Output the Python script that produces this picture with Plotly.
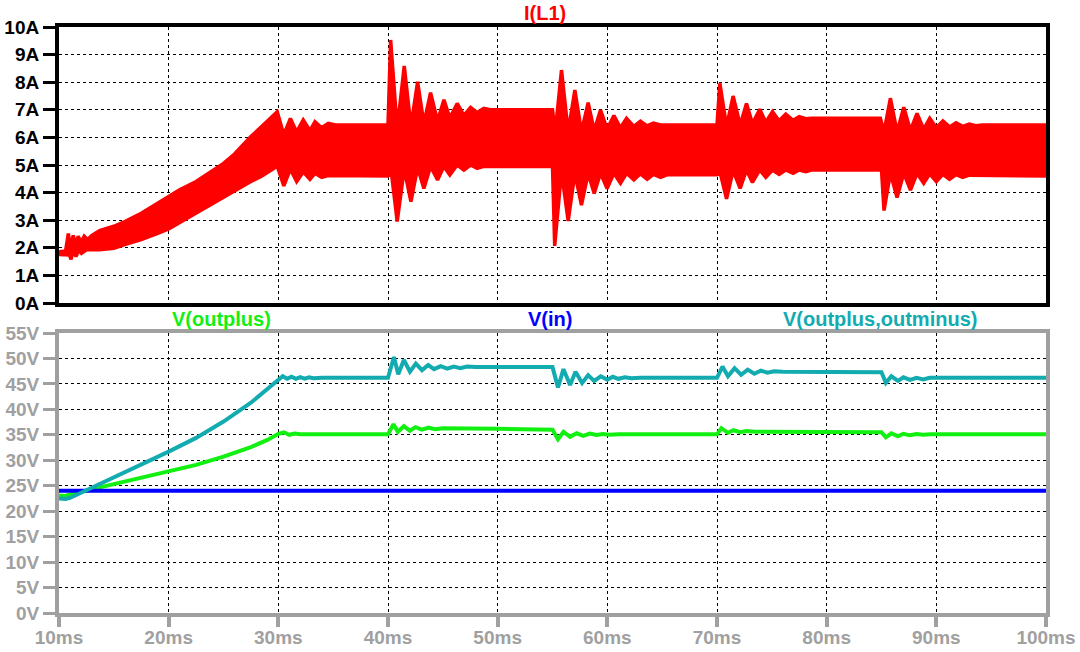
import plotly.graph_objects as go

# ---------------- data ----------------
# Inductor current I(L1): upper and lower edges of the switching-ripple band (ms, A)
i_upper_t = [10.0, 10.6, 10.85, 11.05, 11.3, 11.5, 11.75, 12.0, 12.3, 12.6, 13.0, 13.7, 15.0, 16.0, 17.5, 19.0,
             20.0, 21.0, 22.5, 24.0, 25.0, 26.0, 27.5, 28.5, 29.5, 29.9,
             30.5, 31.1, 31.67, 32.27, 32.88, 33.34, 33.95, 34.55, 35.2, 40.0,
             40.24, 40.84, 41.48, 42.09, 42.70, 43.27, 43.88, 44.52, 45.10, 45.64, 46.31, 46.92,
             47.53, 48.13, 48.74, 49.3, 55.0,
             55.25, 55.82, 56.43, 57.04, 57.64, 58.25, 58.80, 59.38, 59.98, 60.6, 61.2, 61.75,
             62.42, 63.02, 63.63, 64.2, 64.85, 70.0,
             70.26, 70.87, 71.47, 72.11, 72.69, 73.23, 73.9, 74.45, 75.06, 75.66, 76.27, 76.94,
             77.49, 78.1, 78.6, 84.9,
             85.23, 85.81, 86.42, 87.03, 87.64, 88.24, 88.85, 89.4, 90.0, 90.6, 91.2, 91.8,
             92.4, 93.0, 93.6, 94.2, 100.0]
i_upper = [1.86, 1.88, 2.52, 2.0, 2.45, 2.1, 2.42, 2.2, 2.42, 2.3, 2.45, 2.62, 2.78, 2.95, 3.25, 3.6,
           3.85, 4.1, 4.4, 4.8, 5.06, 5.4, 6.03, 6.4, 6.8, 6.93,
           6.1, 6.69, 6.2, 6.63, 6.25, 6.57, 6.35, 6.51, 6.45, 6.45,
           9.53, 6.3, 8.59, 6.4, 8.02, 6.5, 7.62, 6.6, 7.36, 6.7, 7.23, 6.8,
           7.09, 6.9, 7.05, 7.0, 7.0,
           6.2, 8.44, 6.2, 7.72, 6.2, 7.26, 6.25, 6.99, 6.3, 6.79, 6.35, 6.69,
           6.4, 6.59, 6.42, 6.52, 6.45, 6.45,
           7.96, 6.4, 7.5, 6.45, 7.23, 6.5, 7.02, 6.55, 6.93, 6.6, 6.84, 6.62,
           6.75, 6.68, 6.69, 6.69,
           6.2, 7.42, 6.2, 7.09, 6.25, 6.87, 6.3, 6.69, 6.35, 6.6, 6.38, 6.53,
           6.4, 6.48, 6.42, 6.45, 6.45]

i_lower_t = [10.0, 10.95, 11.1, 11.3, 11.55, 11.8, 12.05, 12.5, 13.0, 13.7, 15.0, 16.0, 17.5, 19.0,
             20.0, 21.0, 22.5, 24.0, 25.0, 26.0, 27.5, 28.5, 29.5, 29.9,
             30.5, 31.1, 31.67, 32.27, 32.88, 33.34, 33.95, 34.55, 35.0, 40.0,
             40.3, 40.84, 41.48, 42.09, 42.70, 43.27, 43.88, 44.52, 45.10, 45.64, 46.31, 46.92,
             47.53, 48.13, 48.74, 55.0,
             55.2, 55.82, 56.43, 57.04, 57.64, 58.25, 58.80, 59.38, 59.98, 60.6, 61.2, 61.75,
             62.42, 63.02, 63.63, 64.2, 64.85, 65.5, 70.0,
             70.3, 70.87, 71.47, 72.11, 72.69, 73.23, 73.9, 74.45, 75.06, 75.66, 76.27, 76.94,
             77.49, 78.1, 78.6, 85.0,
             85.23, 85.81, 86.42, 87.03, 87.64, 88.24, 88.85, 89.4, 90.0, 90.6, 91.2, 91.8,
             92.4, 93.0, 93.6, 100.0]
i_lower = [1.76, 1.74, 1.58, 1.9, 1.68, 1.92, 1.8, 1.93, 1.92, 1.93, 1.98, 2.12, 2.3, 2.52,
           2.68, 2.9, 3.25, 3.6, 3.85, 4.05, 4.4, 4.6, 4.85, 4.96,
           4.24, 4.85, 4.4, 4.75, 4.48, 4.7, 4.55, 4.62, 4.6, 4.6,
           4.75, 2.95, 4.85, 3.67, 4.9, 4.15, 4.95, 4.46, 4.95, 4.64, 5.0, 4.82,
           5.0, 4.88, 4.95, 4.95,
           2.07, 4.75, 2.97, 4.7, 3.55, 4.7, 3.97, 4.7, 4.15, 4.7, 4.34, 4.7,
           4.46, 4.68, 4.48, 4.66, 4.55, 4.65, 4.65,
           4.7, 3.77, 4.8, 4.15, 4.82, 4.37, 4.82, 4.55, 4.82, 4.66, 4.82, 4.70,
           4.82, 4.76, 4.82, 4.82,
           3.35, 4.7, 3.82, 4.7, 4.09, 4.7, 4.34, 4.68, 4.4, 4.66, 4.48, 4.65,
           4.55, 4.63, 4.6, 4.6]

# V(outplus) (ms, V)
v_outplus_t = [10.0, 10.6, 11.0, 12.0, 13.0, 14.0, 15.0, 17.5, 20.0, 22.5, 25.0, 27.5, 29.0, 30.0,
               30.5, 31.0, 31.5, 32.0, 40.0,
               40.5, 40.9, 41.45, 42.0, 42.5, 43.1, 43.7, 44.3, 45.0, 50.0, 55.0,
               55.5, 56.0, 56.6, 57.2, 57.8, 58.4, 59.0, 59.6, 60.2, 61.0, 70.0,
               70.4, 71.0, 71.5, 72.1, 72.7, 73.5, 85.0,
               85.4, 85.9, 86.5, 87.0, 87.6, 88.2, 88.8, 89.5, 100.0]
v_outplus = [23.1, 23.0, 23.3, 23.8, 24.3, 24.8, 25.3, 26.5, 27.7, 29.1, 30.7, 32.6, 34.0, 35.2,
             35.5, 35.0, 35.25, 35.1, 35.1,
             37.1, 35.6, 36.7, 35.8, 36.5, 36.0, 36.4, 36.1, 36.3, 36.2, 36.0,
             34.1, 35.6, 34.6, 35.3, 34.8, 35.25, 34.95, 35.15, 35.0, 35.1, 35.1,
             36.3, 35.4, 35.9, 35.5, 35.75, 35.6, 35.5,
             34.5, 35.3, 34.7, 35.2, 34.9, 35.15, 35.0, 35.1, 35.1]

# V(in) (ms, V)
v_in_t = [10.0, 100.0]
v_in = [24.0, 24.0]

# V(outplus,outminus) (ms, V)
v_diff_t = [10.0, 10.6, 11.0, 11.5, 12.0, 13.0, 14.0, 15.0, 17.5, 20.0, 22.5, 25.0, 27.5, 29.0, 30.0,
            30.4, 30.8, 31.2, 31.6, 32.0, 32.4, 32.8, 33.2, 34.0, 40.0,
            40.54, 40.93, 41.45, 42.0, 42.54, 43.1, 43.67, 44.2, 44.8, 45.4, 46.0, 46.6, 47.2, 48.0, 55.0,
            55.5, 56.0, 56.6, 57.1, 57.7, 58.25, 58.8, 59.4, 60.0, 60.5, 61.0, 61.6, 62.2, 63.0, 70.0,
            70.5, 71.0, 71.6, 72.2, 72.8, 73.4, 74.0, 74.6, 75.2, 76.0, 85.0,
            85.4, 85.9, 86.5, 87.0, 87.6, 88.2, 88.8, 89.4, 90.0, 100.0]
v_diff = [22.5, 22.4, 22.6, 23.1, 23.6, 24.6, 25.6, 26.7, 29.1, 31.7, 34.4, 37.6, 41.3, 43.9, 45.8,
          46.5, 46.0, 46.4, 46.0, 46.35, 46.05, 46.3, 46.1, 46.2, 46.2,
          50.3, 46.9, 49.7, 47.4, 49.0, 47.7, 48.7, 47.9, 48.5, 48.0, 48.4, 48.1, 48.4, 48.3, 48.3,
          44.3, 47.9, 44.8, 47.4, 45.2, 46.7, 45.6, 46.5, 45.8, 46.4, 46.0, 46.3, 46.1, 46.2, 46.2,
          48.4, 46.5, 48.1, 46.8, 47.8, 47.0, 47.6, 47.2, 47.5, 47.4, 47.3,
          45.2, 46.5, 45.6, 46.3, 45.8, 46.2, 45.9, 46.2, 46.2, 46.2]

# axis ticks
time_ticks = [10, 20, 30, 40, 50, 60, 70, 80, 90, 100]
time_labels = ["10ms", "20ms", "30ms", "40ms", "50ms", "60ms", "70ms", "80ms", "90ms", "100ms"]
amp_ticks = [0, 1, 2, 3, 4, 5, 6, 7, 8, 9, 10]
amp_labels = ["0A", "1A", "2A", "3A", "4A", "5A", "6A", "7A", "8A", "9A", "10A"]
volt_ticks = [0, 5, 10, 15, 20, 25, 30, 35, 40, 45, 50, 55]
volt_labels = ["0V", "5V", "10V", "15V", "20V", "25V", "30V", "35V", "40V", "45V", "50V", "55V"]

# ---------------- styling ----------------
W, H = 1080, 652
RED = "#ff0000"
GREEN = "#12f012"
BLUE = "#0000ff"
TEAL = "#12abb0"
GRAY = "#a0a0a0"
FONT = "Liberation Sans, Arial, sans-serif"
TICK_SIZE = 19
TITLE_SIZE = 20

left_px, right_px = 59, 1046
top_pane = (27, 303)     # pixel rows of the current pane
bot_pane = (333, 613)    # pixel rows of the voltage pane


def ydom(rows):
    return [1 - rows[1] / H, 1 - rows[0] / H]


xdom = [left_px / W, right_px / W]

fig = go.Figure()

# current ripple band as a closed polygon
band_x = i_upper_t + i_lower_t[::-1]
band_y = i_upper + i_lower[::-1]
fig.add_trace(go.Scatter(x=band_x, y=band_y, fill="toself", fillcolor=RED,
                         mode="lines", line=dict(color=RED, width=3.5),
                         xaxis="x", yaxis="y", hoverinfo="skip"))

fig.add_trace(go.Scatter(x=v_outplus_t, y=v_outplus, mode="lines",
                         line=dict(color=GREEN, width=4), xaxis="x2", yaxis="y2"))
fig.add_trace(go.Scatter(x=v_in_t, y=v_in, mode="lines",
                         line=dict(color=BLUE, width=4), xaxis="x2", yaxis="y2"))
fig.add_trace(go.Scatter(x=v_diff_t, y=v_diff, mode="lines",
                         line=dict(color=TEAL, width=4), xaxis="x2", yaxis="y2"))

grid = dict(showgrid=True, gridcolor="#000000", gridwidth=1, griddash="3px,3px",
            zeroline=False, automargin=False)

fig.update_layout(
    width=W, height=H,
    margin=dict(l=0, r=0, t=0, b=0, autoexpand=False),
    paper_bgcolor="white", plot_bgcolor="white",
    showlegend=False,
    xaxis=dict(domain=xdom, anchor="y", range=[10, 100], tickvals=time_ticks,
               showticklabels=False, ticks="", showline=True, mirror=True,
               linecolor="#000000", linewidth=4, **grid),
    yaxis=dict(domain=ydom(top_pane), anchor="x", range=[0, 10],
               tickvals=amp_ticks, ticktext=amp_labels,
               ticks="outside", ticklen=12, tickwidth=3, tickcolor="#000000",
               tickfont=dict(family=FONT, size=TICK_SIZE, color="#000000", weight="bold"),
               ticklabelstandoff=0,
               showline=True, mirror=True, linecolor="#000000", linewidth=4, **grid),
    xaxis2=dict(domain=xdom, anchor="y2", range=[10, 100],
                tickvals=time_ticks, ticktext=time_labels,
                ticks="outside", ticklen=10, tickwidth=4, tickcolor=GRAY,
                tickfont=dict(family=FONT, size=TICK_SIZE, color=GRAY, weight="bold"),
                ticklabelstandoff=-6,
                showline=True, mirror=True, linecolor=GRAY, linewidth=4, **grid),
    yaxis2=dict(domain=ydom(bot_pane), anchor="x2", range=[0, 55],
                tickvals=volt_ticks, ticktext=volt_labels,
                ticks="outside", ticklen=12, tickwidth=3, tickcolor=GRAY,
                tickfont=dict(family=FONT, size=TICK_SIZE, color=GRAY, weight="bold"),
                ticklabelstandoff=0,
                showline=True, mirror=True, linecolor=GRAY, linewidth=4, **grid),
)

titles = [("I(L1)", RED, 545, 13), ("V(outplus)", GREEN, 221, 319),
          ("V(in)", BLUE, 550, 319), ("V(outplus,outminus)", TEAL, 880, 319)]
for text, color, px, py in titles:
    fig.add_annotation(text=text, xref="paper", yref="paper", x=px / W, y=1 - py / H,
                       xanchor="center", yanchor="middle", showarrow=False,
                       font=dict(family=FONT, size=TITLE_SIZE, color=color, weight="bold"))

fig.write_html("out.html")
